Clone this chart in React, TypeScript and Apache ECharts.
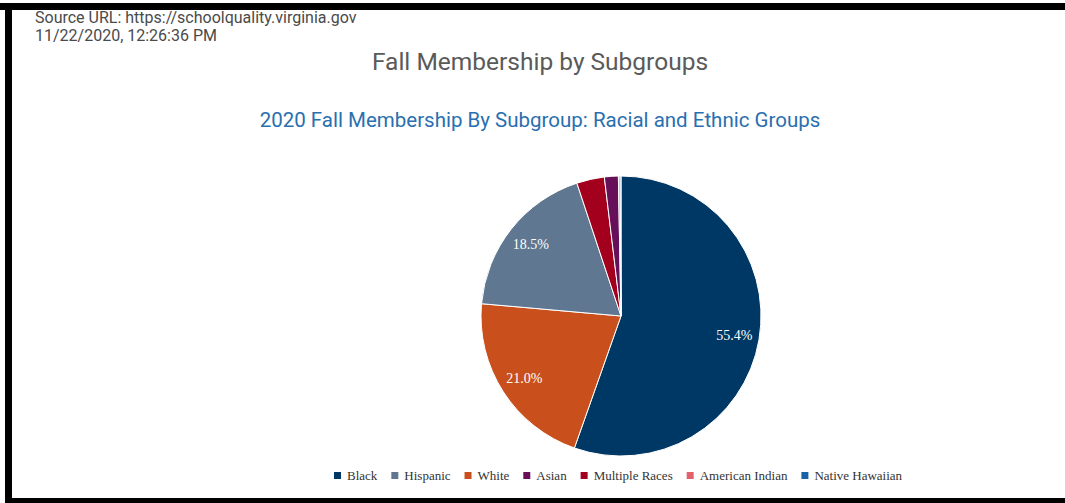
import React, { useEffect, useRef } from "react";
import * as echarts from "echarts";

const sliceNames = ["Black", "White", "Hispanic", "Multiple Races", "Asian", "American Indian", "Native Hawaiian"];
const sliceValues = [55.4, 21.0, 18.5, 3.2, 1.6, 0.2, 0.1];
const sliceColors = ["#003865", "#c9501c", "#5f7790", "#a3001e", "#651058", "#e0626d", "#1a62a6"];
const legendOrder = ["Black", "Hispanic", "White", "Asian", "Multiple Races", "American Indian", "Native Hawaiian"];
const sourceLines = ["Source URL: https://schoolquality.virginia.gov", "11/22/2020, 12:26:36 PM"];
const titleText = "Fall Membership by Subgroups";
const subtitleText = "2020 Fall Membership By Subgroup: Racial and Ethnic Groups";

export default function App() {
  const ref = useRef<HTMLDivElement>(null);
  useEffect(() => {
    if (!ref.current) return;
    const chart = echarts.init(ref.current, null, { renderer: "svg" });
    const data = sliceNames.map((n, i) => ({ name: n, value: sliceValues[i], itemStyle: { color: sliceColors[i] } }));
    chart.setOption({
      animation: false,
      backgroundColor: "#ffffff",
      title: [
        {
          text: titleText,
          left: 535,
          textAlign: "center",
          top: 44,
          textStyle: { fontFamily: "Roboto", fontSize: 24.5, fontWeight: "normal", color: "#5a5a5a" },
        },
        {
          text: subtitleText,
          left: 535,
          textAlign: "center",
          top: 104,
          textStyle: { fontFamily: "Roboto", fontSize: 20.5, fontWeight: "normal", color: "#2a6faf" },
        },
      ],
      legend: {
        data: legendOrder,
        bottom: 16,
        left: 327,
        itemWidth: 9,
        itemHeight: 9,
        itemGap: 12,
        icon: "rect",
        textStyle: { fontFamily: "Liberation Serif", fontSize: 13, color: "#333" },
      },
      graphic: [
        { type: "rect", shape: { x: 0, y: 3, width: 1065, height: 7 }, style: { fill: "#000" } },
        { type: "rect", shape: { x: 5, y: 3, width: 7, height: 500 }, style: { fill: "#000" } },
        { type: "rect", shape: { x: 5, y: 498, width: 1060, height: 5 }, style: { fill: "#000" } },
        {
          type: "text",
          left: 35,
          top: 9,
          style: {
            text: sourceLines[0],
            font: "16px Roboto",
            lineHeight: 16,
            fill: "#4a4a4a",
          },
        },
        {
          type: "text",
          left: 35,
          top: 27,
          style: {
            text: sourceLines[1],
            font: "16px Roboto",
            lineHeight: 16,
            fill: "#4a4a4a",
          },
        },
      ],
      series: [
        {
          type: "pie",
          center: [621, 316],
          radius: [0, 140],
          startAngle: 90,
          clockwise: true,
          data,
          label: { show: false },
          labelLine: { show: false },
          itemStyle: { borderColor: "#ffffff", borderWidth: 1 },
          silent: true,
        },
        {
          type: "pie",
          center: [621, 316],
          radius: [84, 140],
          startAngle: 90,
          clockwise: true,
          data: sliceNames.map((n, i) => ({
            name: n + " ",
            value: sliceValues[i],
            itemStyle: { color: "rgba(0,0,0,0)" },
            label: { show: sliceValues[i] >= 5 },
          })),
          itemStyle: { borderWidth: 0 },
          label: {
            position: "inside",
            formatter: (p: any) => p.value.toFixed(1) + "%",
            fontFamily: "Liberation Serif",
            fontSize: 14,
            color: "#ffffff",
          },
          labelLine: { show: false },
          silent: true,
        },
      ],
    });
    return () => chart.dispose();
  }, []);
  return <div ref={ref} style={{ position: "fixed", left: 0, top: 0, width: 1065, height: 503 }} />;
}
